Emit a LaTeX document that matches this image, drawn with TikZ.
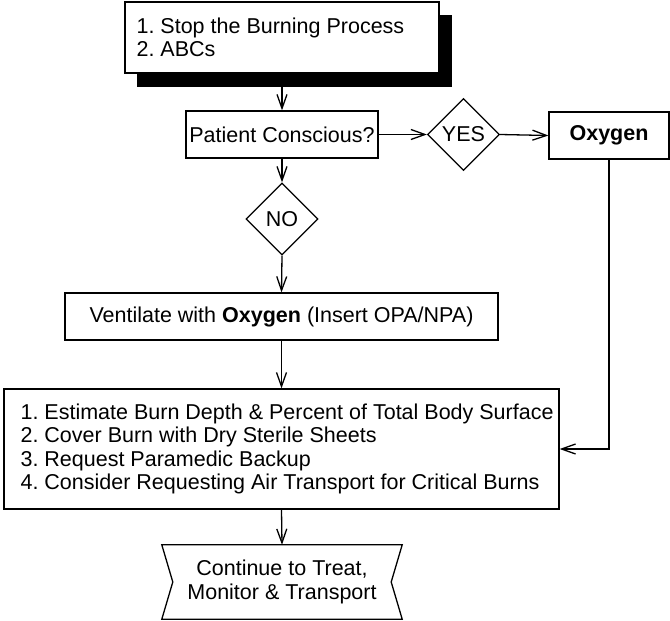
\documentclass[tikz,border=0pt]{standalone}
\usepackage{fontspec}
\setmainfont{Liberation Sans}
\usetikzlibrary{arrows.meta,shapes.geometric}
\frenchspacing
\begin{document}
\begin{tikzpicture}[x=1pt,y=-1pt,
  every node/.style={font=\fontsize{21.5}{23.5}\selectfont},
  box/.style={draw=black, line width=1.3pt, fill=white, rectangle, inner sep=0pt},
  dia/.style={draw=black, line width=1.3pt, fill=white, diamond, aspect=1, inner sep=0pt, minimum width=72pt, minimum height=72pt},
  txt/.style={inner sep=0pt, align=left},
  link/.style={line width=1.3pt, -{Straight Barb[length=14pt,width=10pt,line width=1.3pt]}}
]
\useasboundingbox (0,0) rectangle (670,621);
% shadow of top box
\fill[black] (137,15) rectangle (452,87);
\node[box, minimum width=314pt, minimum height=71pt] (start) at (282,37.5) {};
\node[txt, anchor=west] (starttxt) at ([xshift=12pt]start.west) {1. Stop the Burning Process\\2. ABCs};

\node[box, minimum width=192pt, minimum height=47pt] (conscious) at (282,134.5) {Patient Conscious?};
\node[dia] (yes) at (463.5,134.5) {YES};
\node[box, minimum width=120pt, minimum height=47pt] (oxy) at (609,135.5) {\textbf{Oxygen}};
\node[dia] (no) at (282,219) {NO};
\node[box, minimum width=433pt, minimum height=47pt] (vent) at (281.5,316.5) {Ventilate with \textbf{Oxygen} (Insert OPA/NPA)};
\node[box, minimum width=555pt, minimum height=120pt] (burn) at (281.5,449) {};
\node[txt, anchor=west] (burntxt) at ([xshift=17pt]burn.west) {1. Estimate Burn Depth \& Percent of Total Body Surface\\2. Cover Burn with Dry Sterile Sheets\\3. Request Paramedic Backup\\4. Consider Requesting Air Transport for Critical Burns};

\node[inner sep=0pt, minimum width=240pt, minimum height=74pt, align=center] (cont) at (282,582) {Continue to Treat,\\Monitor \& Transport};
\draw[line width=1.3pt, line join=miter] (cont.north west) -- (cont.north east) -- ([xshift=-11pt]cont.east) -- (cont.south east) -- (cont.south west) -- ([xshift=11pt]cont.west) -- cycle;

\draw[link] (start.south) -- (conscious.north);
\draw[link] (conscious.east) -- (yes.west);
\draw[link] (yes.east) -- (oxy.west);
\draw[link] (conscious.south) -- (no.north);
\draw[link] (no.south) -- (vent.north);
\draw[link] (vent.south) -- (burn.north);
\draw[link] (oxy.south) |- (burn.east);
\draw[link] (burn.south) -- (cont.north);
\end{tikzpicture}
\end{document}
